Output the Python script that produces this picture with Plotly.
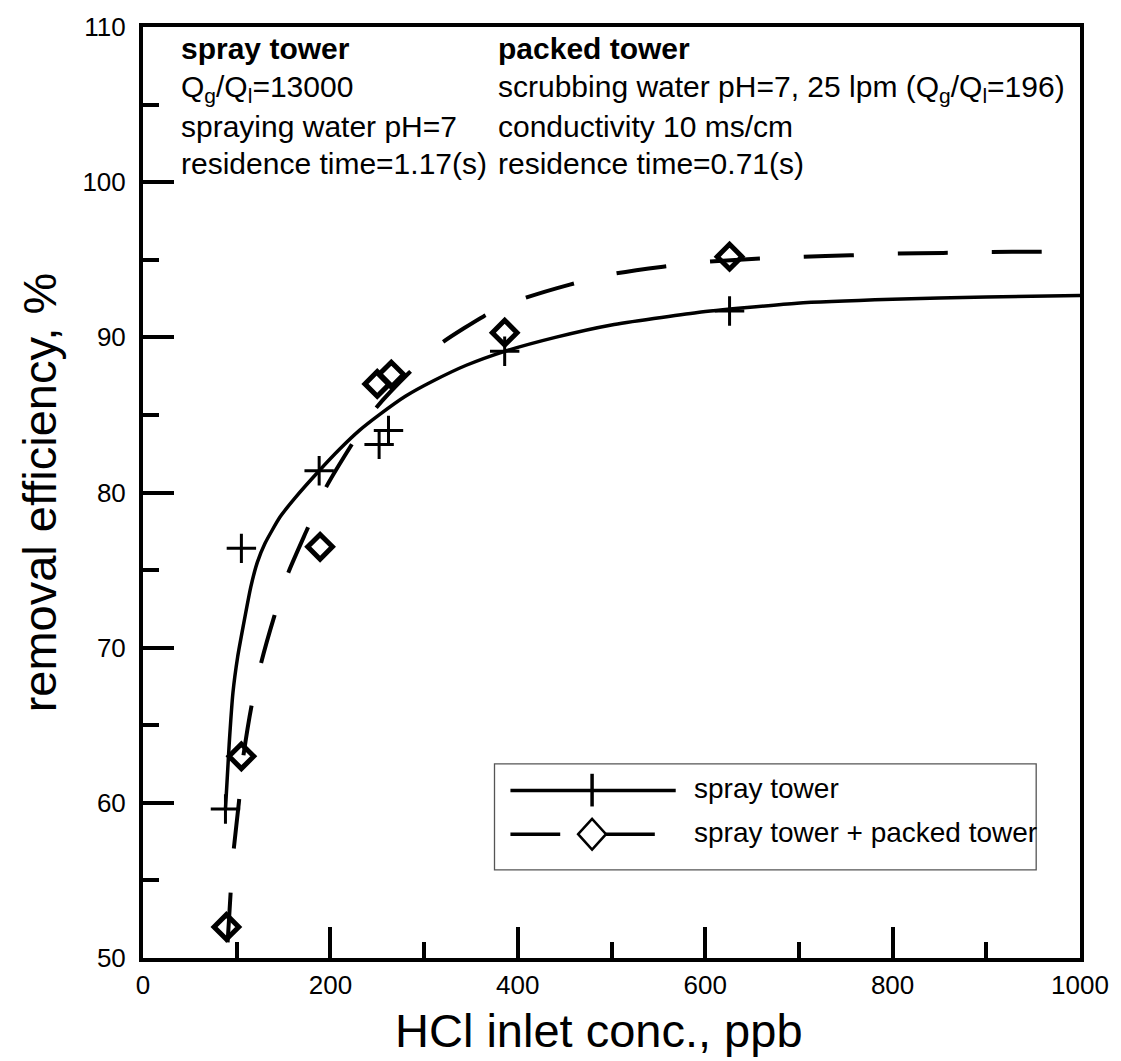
import plotly.graph_objects as go

# ---- data ----
spray_x = [88, 105, 188, 252, 262, 386, 626]
spray_y = [59.6, 76.4, 81.4, 83.1, 84.0, 89.1, 91.7]

packed_x = [89, 105, 189, 250, 265, 386, 626]
packed_y = [52.0, 63.0, 76.5, 87.0, 87.6, 90.3, 95.2]

# fitted curves
spray_fit_x = [88, 92, 96, 101, 107, 115, 122, 130, 146, 163, 188, 210, 231, 252, 280, 310, 345,
               386, 440, 500, 592, 698, 800, 900, 1000]
spray_fit_y = [59.6, 63.8, 67.1, 69.4, 71.4, 73.9, 75.5, 76.7, 78.4, 79.7, 81.4, 82.8, 84.0, 85.0,
               86.2, 87.2, 88.2, 89.1, 90.0, 90.8, 91.6, 92.2, 92.45, 92.6, 92.7]

packed_fit_x = [90.3, 93.5, 97, 102.3, 106.6, 116, 126, 140, 155.5, 175, 195, 221.8, 248, 283.7,
                319, 363.4, 406, 455.5, 503, 555, 601, 654, 702, 755, 801, 854, 901, 954, 1000]
packed_fit_y = [51.0, 54.2, 57.1, 60.0, 62.8, 66.3, 69.0, 72.0, 74.9, 77.6, 80.3, 83.0, 85.4, 87.7,
                89.65, 91.35, 92.5, 93.4, 94.1, 94.55, 94.86, 95.07, 95.18, 95.29, 95.39, 95.44, 95.5, 95.52, 95.55]

x_ticks = [0, 200, 400, 600, 800, 1000]
y_ticks = [50, 60, 70, 80, 90, 100, 110]

FONT = "Liberation Sans, Arial, sans-serif"

fig = go.Figure()

fig.add_trace(go.Scatter(x=spray_fit_x, y=spray_fit_y, mode="lines",
                         line=dict(color="black", width=3.5, shape="spline", smoothing=0.5),
                         showlegend=False, hoverinfo="skip"))
fig.add_trace(go.Scatter(x=packed_fit_x, y=packed_fit_y, mode="lines",
                         line=dict(color="black", width=4, dash="50px,44px", shape="spline", smoothing=0.5),
                         showlegend=False, hoverinfo="skip"))
fig.add_trace(go.Scatter(x=spray_x, y=spray_y, mode="markers", name="spray tower",
                         marker=dict(symbol="cross-thin", size=21, color="black",
                                     line=dict(color="black", width=3)),
                         showlegend=False))
fig.add_trace(go.Scatter(x=packed_x, y=packed_y, mode="markers", name="spray tower + packed tower",
                         marker=dict(symbol="diamond-open", size=19, color="black",
                                     line=dict(color="black", width=5)),
                         showlegend=False))

# ---- geometry helpers (pixel -> paper) for the hand-drawn legend ----
L, R, T, B = 143, 37, 18, 103
W, H = 1121, 1061
PW, PH = W - L - R, H - T - B


def px(xp):
    return (xp - L) / PW


def py(yp):
    return (H - B - yp) / PH


shapes = []
# legend frame
shapes.append(dict(type="rect", xref="paper", yref="paper",
                   x0=px(496), x1=px(1040), y0=py(869), y1=py(762),
                   line=dict(color="#555555", width=1.3), fillcolor="white", layer="above"))
# row 1: solid line + plus
shapes.append(dict(type="line", xref="paper", yref="paper",
                   x0=px(512), x1=px(678), y0=py(789), y1=py(789),
                   line=dict(color="black", width=3.5), layer="above"))
shapes.append(dict(type="line", xref="paper", yref="paper",
                   x0=px(594), x1=px(594), y0=py(772), y1=py(805),
                   line=dict(color="black", width=3.5), layer="above"))
# row 2: dashed line + diamond
shapes.append(dict(type="line", xref="paper", yref="paper",
                   x0=px(512), x1=px(562), y0=py(833), y1=py(833),
                   line=dict(color="black", width=3.5), layer="above"))
shapes.append(dict(type="line", xref="paper", yref="paper",
                   x0=px(608), x1=px(657), y0=py(833), y1=py(833),
                   line=dict(color="black", width=3.5), layer="above"))
cx, cy, hw, hh = 594, 833, 14, 15.5
path = "M {},{} L {},{} L {},{} L {},{} Z".format(
    px(cx - hw), py(cy), px(cx), py(cy - hh), px(cx + hw), py(cy), px(cx), py(cy + hh))
shapes.append(dict(type="path", xref="paper", yref="paper", path=path,
                   line=dict(color="black", width=2.5), fillcolor="white", layer="above"))

annotations = []
for txt, yp in [("spray tower", 787), ("spray tower + packed tower", 831)]:
    annotations.append(dict(xref="paper", yref="paper", x=px(694), y=py(yp), text=txt,
                            xanchor="left", yanchor="middle", showarrow=False,
                            font=dict(family=FONT, size=28, color="black")))

left_lines = [("<b>spray tower</b>", 108.6),
              ("Q<sub>g</sub>/Q<sub>l</sub>=13000", 106.05),
              ("spraying water pH=7", 103.6),
              ("residence time=1.17(s)", 101.2)]
right_lines = [("<b>packed tower</b>", 108.6),
               ("scrubbing water pH=7, 25 lpm (Q<sub>g</sub>/Q<sub>l</sub>=196)", 106.05),
               ("conductivity 10 ms/cm", 103.6),
               ("residence time=0.71(s)", 101.2)]
for txt, yv in left_lines:
    annotations.append(dict(x=38.3, y=yv, xref="x", yref="y", text=txt, xanchor="left",
                            yanchor="middle", showarrow=False,
                            font=dict(family=FONT, size=30, color="black")))
for txt, yv in right_lines:
    annotations.append(dict(x=376.2, y=yv, xref="x", yref="y", text=txt, xanchor="left",
                            yanchor="middle", showarrow=False,
                            font=dict(family=FONT, size=30, color="black")))

# x-axis title (slightly left of the plot centre, as in the reference)
annotations.append(dict(xref="paper", yref="paper", x=px(601), y=py(1031), text="HCl inlet conc., ppb",
                        xanchor="center", yanchor="middle", showarrow=False, borderpad=0,
                        font=dict(family=FONT, size=47, color="black")))

fig.update_layout(
    width=W, height=H,
    margin=dict(l=L, r=R, t=T, b=B, pad=0),
    paper_bgcolor="white", plot_bgcolor="white",
    font=dict(family=FONT, color="black"),
    shapes=shapes, annotations=annotations,
    showlegend=False,
)

fig.update_xaxes(
    range=[0, 1000], tickvals=x_ticks, ticks="inside", ticklen=31, tickwidth=3.5, tickcolor="black",
    showline=True, linewidth=4, linecolor="black", mirror=True, showgrid=False, zeroline=False,
    tickfont=dict(family=FONT, size=26, color="black"), ticklabelstandoff=1,
    minor=dict(dtick=100, tick0=0, ticks="inside", ticklen=16, tickwidth=3.5, tickcolor="black", showgrid=False),
)
fig.update_yaxes(
    range=[50, 110], tickvals=y_ticks, ticks="inside", ticklen=31, tickwidth=3.5, tickcolor="black",
    showline=True, linewidth=4, linecolor="black", mirror=True, showgrid=False, zeroline=False,
    tickfont=dict(family=FONT, size=26, color="black"), ticklabelstandoff=8,
    minor=dict(dtick=5, tick0=50, ticks="inside", ticklen=16, tickwidth=3.5, tickcolor="black", showgrid=False),
    title=dict(text="removal efficiency, %", font=dict(family=FONT, size=47, color="black"), standoff=12),
)

fig.write_html("out.html")
